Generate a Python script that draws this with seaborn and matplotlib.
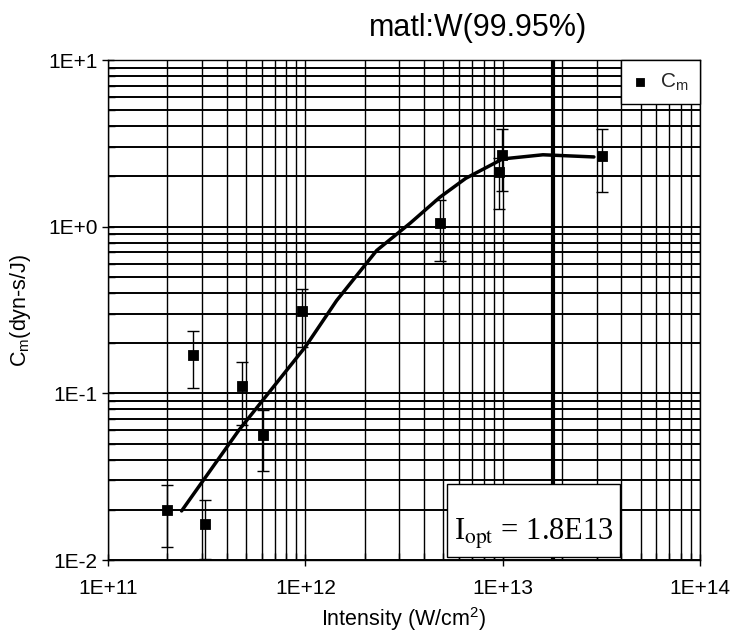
import matplotlib
matplotlib.use("Agg")
import matplotlib.pyplot as plt
import seaborn as sns
import pandas as pd
from matplotlib.patches import Rectangle
from matplotlib.ticker import LogLocator, NullFormatter

# Measured momentum coupling coefficient for tungsten targets
intensity = [2.0e11, 2.7e11, 3.1e11, 4.8e11, 6.1e11, 9.6e11, 4.8e12, 9.6e12, 9.9e12, 3.2e13]
cm = [0.020, 0.17, 0.0164, 0.11, 0.056, 0.31, 1.05, 2.13, 2.7, 2.65]
cm_low = [0.012, 0.107, 0.0102, 0.065, 0.034, 0.19, 0.62, 1.27, 1.64, 1.62]
cm_high = [0.028, 0.235, 0.023, 0.155, 0.079, 0.42, 1.45, 2.6, 3.88, 3.83]

# Fitted trend curve
fit_intensity = [2.36e11, 4.6e11, 1.0e12, 1.44e12, 2.3e12, 3.4e12, 4.8e12, 6.5e12,
                 1.0e13, 1.6e13, 2.9e13]
fit_cm = [0.0197, 0.06, 0.19, 0.36, 0.72, 1.05, 1.5, 1.95, 2.55, 2.7, 2.62]

i_opt = 1.8e13

x_ticks = [1e11, 1e12, 1e13, 1e14]
x_tick_labels = ["1E+11", "1E+12", "1E+13", "1E+14"]
y_ticks = [1e-2, 1e-1, 1e0, 1e1]
y_tick_labels = ["1E-2", "1E-1", "1E+0", "1E+1"]

sns.set_theme(style="white")
plt.rcParams["font.family"] = ["Liberation Sans", "DejaVu Sans"]
plt.rcParams["mathtext.fontset"] = "custom"
plt.rcParams["mathtext.rm"] = "Liberation Sans"
plt.rcParams["mathtext.it"] = "Liberation Sans"

points = pd.DataFrame({"intensity": intensity, "cm": cm})
fit = pd.DataFrame({"intensity": fit_intensity, "cm": fit_cm})

fig = plt.figure(figsize=(7.32, 6.32), dpi=100)
ax = fig.add_axes([108 / 732, 1 - 560 / 632, 592 / 732, 500 / 632])
ax.set_xscale("log")
ax.set_yscale("log")
ax.set_xlim(1e11, 1e14)
ax.set_ylim(1e-2, 1e1)

# grid on every decade and sub-decade
ax.xaxis.set_minor_locator(LogLocator(base=10, subs=range(2, 10)))
ax.yaxis.set_minor_locator(LogLocator(base=10, subs=range(2, 10)))
ax.xaxis.set_minor_formatter(NullFormatter())
ax.yaxis.set_minor_formatter(NullFormatter())
ax.xaxis.grid(True, which="both", color="black", lw=1.0)
ax.yaxis.grid(True, which="both", color="black", lw=1.4)
ax.set_axisbelow(True)

# error bars
yerr = [[c - lo for c, lo in zip(cm, cm_low)], [hi - c for c, hi in zip(cm, cm_high)]]
ax.errorbar(intensity, cm, yerr=yerr, fmt="none", ecolor="black", elinewidth=1.0,
            capsize=4, capthick=1.0, zorder=3)

sns.lineplot(data=fit, x="intensity", y="cm", ax=ax, color="black", lw=2.5,
             sort=False, estimator=None, zorder=4, legend=False)
sns.scatterplot(data=points, x="intensity", y="cm", ax=ax, marker="s", s=55,
                color="black", edgecolor="black", zorder=5, label="C$_{\\mathrm{m}}$")

ax.axvline(i_opt, color="black", lw=3.0, zorder=4)

ax.set_xticks(x_ticks)
ax.set_xticklabels(x_tick_labels)
ax.set_yticks(y_ticks)
ax.set_yticklabels(y_tick_labels)
ax.tick_params(axis="x", which="major", pad=9)
ax.tick_params(axis="y", which="major", pad=3)
ax.tick_params(axis="both", which="major", direction="inout", length=9, width=1,
               labelsize=15, color="black", labelcolor="black")
ax.tick_params(axis="both", which="minor", direction="in", length=5, width=1,
               color="black")
ax.tick_params(bottom=True, left=True, which="both")
for s in ax.spines.values():
    s.set_color("black")
    s.set_linewidth(1.0)

ax.set_xlabel("Intensity (W/cm$^{2}$)", fontsize=15.5, color="black")
ax.xaxis.set_label_coords(0.5, -0.118)
ax.xaxis.label.set_va("center")
ax.set_ylabel("C$_{\\mathrm{m}}$(dyn-s/J)", fontsize=15.5, color="black")
ax.yaxis.set_label_coords(-0.147, 0.5)
ax.yaxis.label.set_va("center")
fig.text(478 / 732, 1 - 28 / 632, "matl:W(99.95%)", ha="center", va="center",
         fontsize=22, color="black")

leg = ax.legend(loc="upper right", bbox_to_anchor=(1.0, 1.0), borderaxespad=0,
                frameon=True, fancybox=False, fontsize=15, handletextpad=0.6,
                borderpad=0.55, handlelength=0.7, markerscale=0.85)
leg.get_frame().set_edgecolor("black")
leg.get_frame().set_linewidth(1.0)
leg.get_frame().set_alpha(1.0)
leg.set_zorder(7)

# optimum-intensity annotation box
ax.add_patch(Rectangle((0.573, 0.006), 0.292, 0.146, transform=ax.transAxes,
                       facecolor="white", edgecolor="black", lw=1.0, zorder=6))
ax.text(0.719, 0.04, "I$_{\\mathrm{opt}}$ = 1.8E13", transform=ax.transAxes,
        ha="center", va="baseline", fontsize=22, family="Liberation Serif",
        math_fontfamily="stix", color="black", zorder=7)

fig.savefig("out.png", dpi=100)
